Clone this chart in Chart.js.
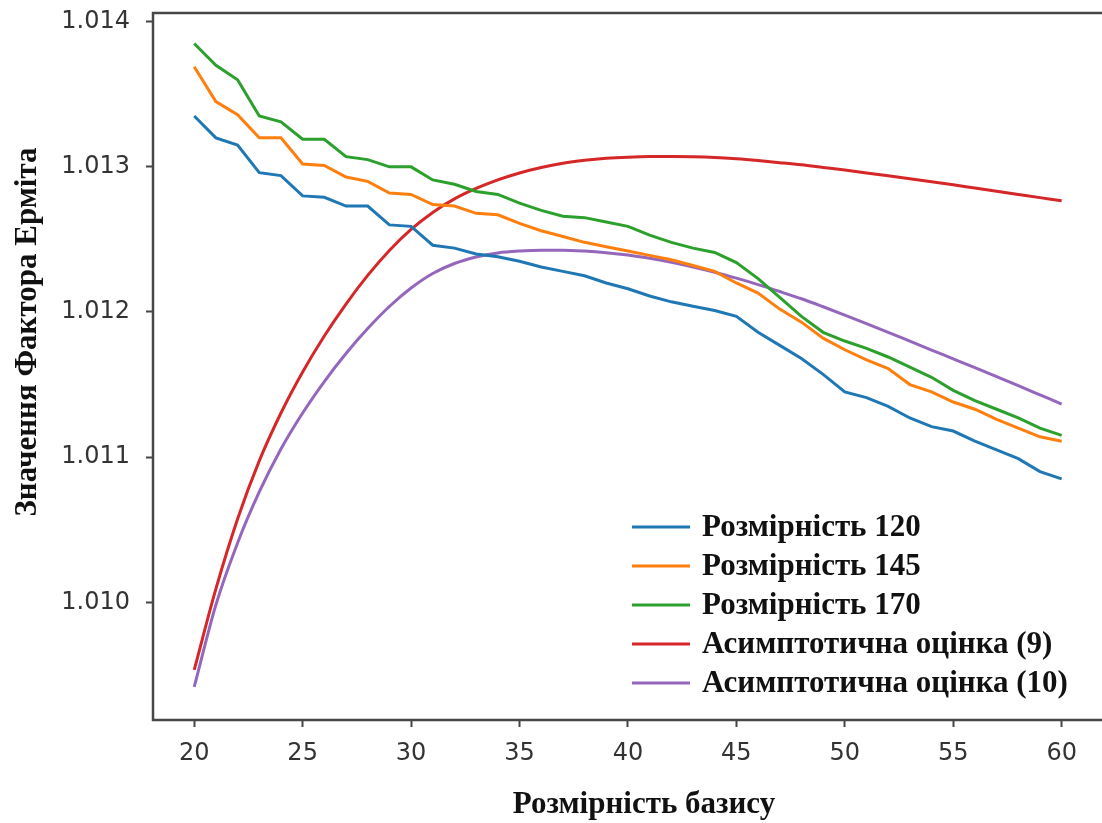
<!DOCTYPE html>
<html lang="uk">
<head>
  <meta charset="UTF-8" />
  <title>Значення Фактора Ерміта</title>
  <script src="https://cdn.jsdelivr.net/npm/chart.js"></script>
  <style>
    html, body { margin: 0; padding: 0; background: #fff; }
    #wrap { width: 1102px; height: 823px; position: relative; }
  </style>
</head>
<body>
  <div id="wrap"><canvas id="hermiteChart"></canvas></div>

  <script>
    // basis dimension (x axis)
    const basisDims = [20, 21, 22, 23, 24, 25, 26, 27, 28, 29, 30, 31, 32, 33, 34, 35, 36, 37, 38, 39, 40,
                       41, 42, 43, 44, 45, 46, 47, 48, 49, 50, 51, 52, 53, 54, 55, 56, 57, 58, 59, 60];

    const dim120 = [1.01335, 1.01320, 1.01315, 1.01296, 1.01294, 1.01280, 1.01279, 1.01273, 1.01273, 1.01260, 1.01259,
                    1.01246, 1.01244, 1.01240, 1.01238, 1.01235, 1.01231, 1.01228, 1.01225, 1.01220, 1.01216,
                    1.01211, 1.01207, 1.01204, 1.01201, 1.01197, 1.01186, 1.01177, 1.01168, 1.01157, 1.01145,
                    1.01141, 1.01135, 1.01127, 1.01121, 1.01118, 1.01111, 1.01105, 1.01099, 1.01090, 1.01085];

    const dim145 = [1.01369, 1.01345, 1.01336, 1.01320, 1.01320, 1.01302, 1.01301, 1.01293, 1.01290, 1.01282, 1.01281,
                    1.01274, 1.01273, 1.01268, 1.01267, 1.01261, 1.01256, 1.01252, 1.01248, 1.01245, 1.01242,
                    1.01239, 1.01236, 1.01232, 1.01228, 1.01220, 1.01213, 1.01202, 1.01193, 1.01182, 1.01174,
                    1.01167, 1.01161, 1.01150, 1.01145, 1.01138, 1.01133, 1.01126, 1.01120, 1.01114, 1.01111];

    const dim170 = [1.01385, 1.01370, 1.01360, 1.01335, 1.01331, 1.01319, 1.01319, 1.01307, 1.01305, 1.01300, 1.01300,
                    1.01291, 1.01288, 1.01283, 1.01281, 1.01275, 1.01270, 1.01266, 1.01265, 1.01262, 1.01259,
                    1.01253, 1.01248, 1.01244, 1.01241, 1.01234, 1.01223, 1.01210, 1.01197, 1.01186, 1.01180,
                    1.01175, 1.01169, 1.01162, 1.01155, 1.01146, 1.01139, 1.01133, 1.01127, 1.01120, 1.01115];

    const asym9 = [1.009534, 1.010092, 1.010574, 1.010974, 1.011304, 1.011587, 1.011835, 1.012055, 1.012252, 1.012424,
                   1.012569, 1.012686, 1.012779, 1.012851, 1.012910, 1.012958, 1.012996, 1.013025, 1.013045, 1.013059,
                   1.013067, 1.013071, 1.013071, 1.013069, 1.013064, 1.013055, 1.013043, 1.013029, 1.013014, 1.012996,
                   1.012978, 1.012958, 1.012938, 1.012918, 1.012897, 1.012876, 1.012854, 1.012832, 1.012810, 1.012788,
                   1.012766];

    const asym10 = [1.009417, 1.009982, 1.010409, 1.010760, 1.011056, 1.011304, 1.011521, 1.011714, 1.011886, 1.012038,
                    1.012165, 1.012265, 1.012334, 1.012379, 1.012407, 1.012420, 1.012426, 1.012426, 1.012420, 1.012409,
                    1.012393, 1.012370, 1.012342, 1.012310, 1.012274, 1.012233, 1.012189, 1.012141, 1.012091, 1.012036,
                    1.011979, 1.011920, 1.011860, 1.011799, 1.011738, 1.011677, 1.011616, 1.011554, 1.011492, 1.011429,
                    1.011366];

    const seriesNames = ["Розмірність 120", "Розмірність 145", "Розмірність 170",
                         "Асимптотична оцінка (9)", "Асимптотична оцінка (10)"];
    const seriesValues = [dim120, dim145, dim170, asym9, asym10];
    const seriesColors = ["#1f77b4", "#ff7f0e", "#2ca02c", "#d62728", "#9467bd"];
    const smoothSeries = [false, false, false, true, true];

    const xTicks = [20, 25, 30, 35, 40, 45, 50, 55, 60];
    const yTicks = [1.010, 1.011, 1.012, 1.013, 1.014];

    const serifBold = "bold 31px 'Liberation Serif', 'Times New Roman', serif";

    // frame, legend and axis titles drawn on top
    const overlay = {
      id: "overlay",
      afterDraw(chart) {
        const ctx = chart.ctx;
        const a = chart.chartArea;
        ctx.save();
        ctx.strokeStyle = "#474747";
        ctx.lineWidth = 2.5;
        ctx.strokeRect(a.left, a.top, a.right - a.left + 4, a.bottom - a.top);

        // legend, lower right inside the plot
        const lx = 632, ly = 527, step = 39;
        ctx.font = serifBold;
        ctx.textAlign = "left";
        ctx.textBaseline = "middle";
        chart.data.datasets.forEach(function (ds, i) {
          const y = ly + i * step;
          ctx.strokeStyle = ds.borderColor;
          ctx.lineWidth = 3;
          ctx.beginPath();
          ctx.moveTo(lx, y);
          ctx.lineTo(lx + 58, y);
          ctx.stroke();
          ctx.fillStyle = "#111";
          ctx.fillText(ds.label, lx + 70, y + 1);
        });

        // axis titles
        ctx.fillStyle = "#111";
        ctx.textAlign = "center";
        ctx.fillText("Розмірність базису", 644, 805);
        ctx.translate(28, 332);
        ctx.rotate(-Math.PI / 2);
        ctx.fillText("Значення Фактора Ерміта", 0, 0);
        ctx.restore();
      }
    };

    const ctx = document.getElementById("hermiteChart").getContext("2d");
    new Chart(ctx, {
      type: "line",
      data: {
        datasets: seriesNames.map(function (name, i) {
          return {
            label: name,
            data: basisDims.map(function (x, j) { return { x: x, y: seriesValues[i][j] }; }),
            borderColor: seriesColors[i],
            backgroundColor: seriesColors[i],
            borderWidth: 3,
            pointRadius: 0,
            cubicInterpolationMode: smoothSeries[i] ? "monotone" : "default",
            tension: 0,
            fill: false
          };
        })
      },
      options: {
        responsive: true,
        maintainAspectRatio: false,
        animation: false,
        devicePixelRatio: 1,
        layout: { padding: { top: 13, right: 0, bottom: 0, left: 0 } },
        plugins: {
          legend: { display: false },
          tooltip: { enabled: false }
        },
        scales: {
          x: {
            type: "linear",
            min: 18.1,
            max: 61.86,
            afterFit: function (s) { s.height = 103; s.paddingLeft = 0; s.paddingRight = 0; },
            afterBuildTicks: function (s) { s.ticks = xTicks.map(function (v) { return { value: v }; }); },
            border: { display: false },
            grid: { drawOnChartArea: false, drawTicks: true, tickLength: 7, tickWidth: 2, tickColor: "#444" },
            ticks: {
              padding: 12,
              maxRotation: 0,
              color: "#333",
              font: { family: "'DejaVu Sans'", size: 24 }
            }
          },
          y: {
            min: 1.009189,
            max: 1.01406,
            afterFit: function (s) { s.width = 153; s.paddingTop = 0; s.paddingBottom = 0; },
            afterBuildTicks: function (s) { s.ticks = yTicks.map(function (v) { return { value: v }; }); },
            border: { display: false },
            grid: { drawOnChartArea: false, drawTicks: true, tickLength: 7, tickWidth: 2, tickColor: "#444" },
            ticks: {
              padding: 16,
              color: "#333",
              font: { family: "'DejaVu Sans'", size: 24 },
              callback: function (v) { return v.toFixed(3); }
            }
          }
        }
      },
      plugins: [overlay]
    });
  </script>
</body>
</html>
